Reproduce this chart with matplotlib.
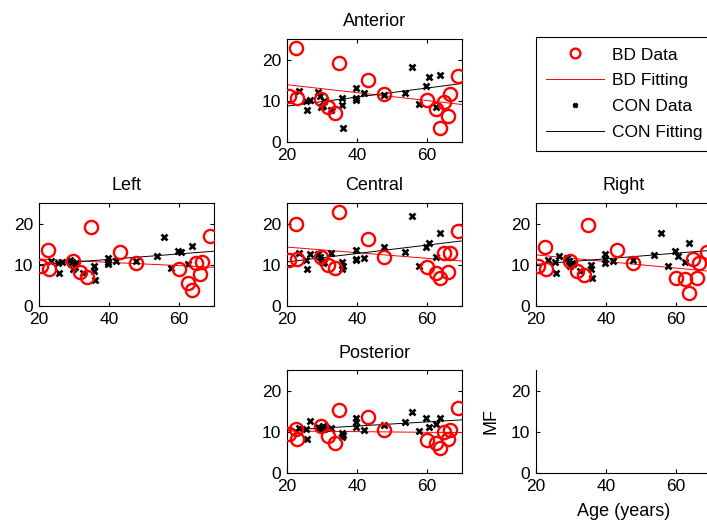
import matplotlib.pyplot as plt
import numpy as np

plt.rcParams['font.family'] = ['Liberation Sans', 'DejaVu Sans']

# ages of the subjects
bd_age = [20.5, 22.6, 22.8, 29.6, 31.7, 33.6, 34.8, 43.0, 47.6, 60.0, 62.5, 63.8, 64.8, 65.9, 66.7, 68.8]
con_age = [23.4, 25.5, 25.7, 26.7, 28.8, 29.5, 29.6, 30.3, 30.7, 32.5, 35.6, 35.7, 35.9,
           39.6, 39.6, 39.8, 41.9, 47.6, 53.7, 55.7, 57.8, 59.8, 60.6, 62.7, 63.8]

# MF values per region
bd_anterior = [11.1, 22.9, 10.7, 10.4, 8.5, 7.1, 19.2, 15.0, 11.7, 10.1, 8.1, 3.4, 9.7, 6.3, 11.7, 16.0]
bd_left = [9.8, 13.6, 9.1, 11.0, 8.2, 7.1, 19.2, 13.1, 10.4, 9.1, 5.6, 3.9, 10.4, 7.8, 10.8, 17.1]
bd_central = [11.1, 19.8, 11.5, 11.9, 9.9, 9.2, 22.7, 16.2, 11.9, 9.5, 7.9, 6.8, 12.8, 8.3, 12.8, 18.2]
bd_right = [9.8, 14.3, 9.0, 11.0, 8.6, 7.5, 19.6, 13.7, 10.4, 6.9, 6.5, 3.1, 11.3, 6.9, 10.4, 13.0]
bd_posterior = [9.4, 10.8, 8.2, 11.4, 9.0, 7.3, 15.3, 13.6, 10.4, 7.9, 7.3, 6.1, 10.0, 8.3, 10.4, 15.8]

con_anterior = [12.4, 10.0, 7.7, 10.2, 12.2, 11.2, 8.5, 8.8, 10.0, 7.7, 10.6, 8.9, 3.3,
                13.0, 10.8, 10.2, 11.8, 11.5, 11.8, 18.1, 9.2, 13.7, 15.7, 8.5, 16.3]
con_left = [11.0, 10.4, 8.0, 10.6, 11.2, 10.8, 8.9, 9.5, 10.4, 8.1, 9.8, 8.5, 6.3,
            11.6, 10.6, 10.3, 11.0, 11.0, 12.2, 16.7, 9.2, 13.3, 13.0, 10.2, 14.6]
con_central = [12.8, 11.1, 9.0, 12.7, 12.7, 11.9, 11.0, 10.5, 10.7, 12.8, 10.7, 9.0, 9.8,
               13.7, 11.1, 11.4, 11.6, 14.3, 13.1, 21.8, 9.8, 14.3, 15.3, 12.0, 17.8]
con_right = [11.1, 10.8, 8.0, 12.2, 11.6, 11.0, 9.8, 10.5, 10.2, 8.5, 10.0, 9.0, 6.8,
             12.7, 11.5, 10.4, 10.9, 11.2, 12.4, 17.8, 9.6, 13.3, 12.2, 10.8, 15.3]
con_posterior = [11.0, 10.7, 8.2, 12.6, 11.2, 11.0, 10.6, 11.3, 10.8, 11.0, 9.6, 8.8, 9.2,
                 13.4, 12.5, 11.2, 10.4, 11.6, 12.3, 14.7, 10.2, 13.4, 11.1, 11.8, 13.3]

# fitted lines, value at the ends of the age range
fit_age = [20, 70]
bd_fit_anterior = [13.9, 9.1]
bd_fit_left = [11.4, 9.4]
bd_fit_central = [14.3, 10.9]
bd_fit_right = [12.4, 8.4]
bd_fit_posterior = [10.2, 9.8]
con_fit_anterior = [8.7, 14.2]
con_fit_left = [10.0, 13.3]
con_fit_central = [10.7, 15.8]
con_fit_right = [10.1, 13.5]
con_fit_posterior = [10.4, 12.9]

W, H = 707, 525
fig = plt.figure(figsize=(W / 100, H / 100), dpi=100)

col_x = [39, 287, 536]
row_top = [39, 203, 370]
aw, ah = 175, 103


def make_ax(col, row, box=True):
    ax = fig.add_axes([col_x[col] / W, 1 - (row_top[row] + ah) / H, aw / W, ah / H])
    ax.set_xlim(20, 70)
    ax.set_ylim(0, 25)
    ax.set_xticks([20, 40, 60])
    ax.set_yticks([0, 10, 20])
    ax.tick_params(direction='in', length=3, width=0.8, labelsize=12.5, pad=4,
                   top=box, right=box)
    for s in ax.spines.values():
        s.set_linewidth(0.8)
    if not box:
        ax.spines['top'].set_visible(False)
        ax.spines['right'].set_visible(False)
    return ax


panels = [
    ('Anterior', 1, 0, bd_anterior, con_anterior, bd_fit_anterior, con_fit_anterior),
    ('Left', 0, 1, bd_left, con_left, bd_fit_left, con_fit_left),
    ('Central', 1, 1, bd_central, con_central, bd_fit_central, con_fit_central),
    ('Right', 2, 1, bd_right, con_right, bd_fit_right, con_fit_right),
    ('Posterior', 1, 2, bd_posterior, con_posterior, bd_fit_posterior, con_fit_posterior),
]

for name, c, r, bd, con, bdf, conf in panels:
    ax = make_ax(c, r)
    h1, = ax.plot(bd_age, bd, 'o', ms=9.5, mfc='none', mec='red', mew=1.7, label='BD Data', zorder=3)
    h2, = ax.plot(fit_age, bdf, '-', color='red', lw=0.7, label='BD Fitting')
    h3, = ax.plot(con_age, con, 'x', ms=4.2, mec='black', mew=1.9, label='CON Data')
    h4, = ax.plot(fit_age, conf, '-', color='black', lw=0.7, label='CON Fitting')
    ax.set_title(name, fontsize=13, pad=9)

ax = make_ax(2, 2, box=False)
ax.set_ylabel('MF', fontsize=13, labelpad=8)
ax.set_xlabel('Age (years)', fontsize=13, labelpad=7)

leg = fig.legend([h1, h2, h3, h4], ['BD Data', 'BD Fitting', 'CON Data', 'CON Fitting'],
                 loc='upper left', bbox_to_anchor=(536 / W, 1 - 37 / H), borderaxespad=0,
                 fontsize=12.5, numpoints=1, handlelength=3.3, handletextpad=0.45,
                 borderpad=0.6, labelspacing=0.62, fancybox=False, framealpha=1,
                 edgecolor='black')
leg.get_frame().set_linewidth(0.8)
leg.legend_handles[0].set_markersize(7)
leg.legend_handles[2].set_markersize(3.5)

fig.savefig('out.png', dpi=100)
